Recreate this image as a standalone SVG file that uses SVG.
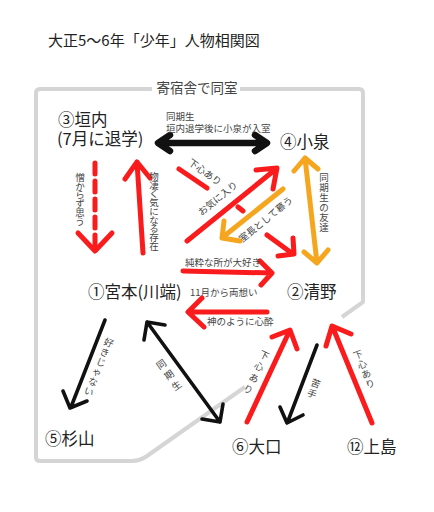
<svg xmlns="http://www.w3.org/2000/svg" width="434" height="512" viewBox="0 0 434 512">
<style>
text{font-family:"Noto Sans CJK JP","Noto Sans CJK SC",sans-serif;}
.title{font-size:15px;fill:#222;}
.node{font-size:16.5px;fill:#222;}
.lbl{font-size:9.5px;fill:#444;}
.vt{text-anchor:middle;}
.red{stroke:#fa1c1c;stroke-width:5;fill:none;stroke-linecap:round;stroke-linejoin:round;}
.org{stroke:#f6a61e;stroke-width:5;fill:none;stroke-linecap:round;stroke-linejoin:round;}
.blk{stroke:#111;stroke-width:3.6;fill:none;stroke-linecap:round;stroke-linejoin:round;}
.blkb{stroke:#111;stroke-width:6.5;fill:none;stroke-linecap:round;stroke-linejoin:round;}
.border{stroke:#d5d5d5;stroke-width:4;fill:none;stroke-linejoin:round;}
</style>
<rect width="434" height="512" fill="#fff"/>
<text class="title" x="48" y="46">大正5〜6年「少年」人物相関図</text>
<g id="border">
<path class="border" d="M152,89 H40 Q36,89 36,93 V457 Q36,461 40,461 H132 Q140,461 147,456 L245,387"/>
<path class="border" d="M342,317 L363,302 V93 Q363,89 359,89 H240"/>
<text x="197" y="93" font-size="13.5" fill="#444" text-anchor="middle">寄宿舎で同室</text>
</g>
<g id="connectors">
<g id="e-kakiuchi-koizumi">
<path class="blkb" d="M160,143 H265 M170,135 L158,143 L170,151 M255,135 L267,143 L255,151"/>
<text class="lbl" x="166" y="119.5" font-size="9.8">同期生</text>
<text class="lbl" x="166" y="131.5" font-size="9.3">垣内退学後に小泉が入室</text>
</g>
<g id="e-kakiuchi-miyamoto">
<path class="red" d="M95,163 V246" stroke-dasharray="11 7"/>
<path class="red" d="M78,233 L95,251 L112,233"/>
<text class="lbl vt" font-size="9"><tspan x="80" y="181">憎</tspan><tspan x="80" dy="8.7">か</tspan><tspan x="80" dy="8.7">ら</tspan><tspan x="80" dy="8.7">ず</tspan><tspan x="80" dy="8.7">思</tspan><tspan x="80" dy="8.7">う</tspan></text>
</g>
<g id="e-miyamoto-kakiuchi">
<path class="red" d="M143,253 L137,162 M125,179 L137,162 L150,178"/>
<text class="lbl vt" font-size="8.7"><tspan x="154" y="180">物</tspan><tspan x="154" dy="8.7">凄</tspan><tspan x="154" dy="8.7">く</tspan><tspan x="154" dy="8.7">気</tspan><tspan x="154" dy="8.7">に</tspan><tspan x="154" dy="8.7">な</tspan><tspan x="154" dy="8.7">る</tspan><tspan x="154" dy="8.7">存</tspan><tspan x="154" dy="8.7">在</tspan></text>
</g>
<g id="e-kakiuchi-kiyono">
<path class="red" d="M179,169 L207,188 M238,207 L243,211 M267,235 L293,254 M278,256 L294,254 L293,238"/>
<text class="lbl" x="0" y="0" font-size="9" text-anchor="middle" transform="translate(203,175) rotate(35)">下心あり</text>
</g>
<g id="e-miyamoto-koizumi">
<path class="red" d="M187,241 L276,169 M256,170 L277,168 L273,189"/>
<text class="lbl" x="0" y="0" font-size="9.5" text-anchor="middle" transform="translate(220,201) rotate(-39)">お気に入り</text>
</g>
<g id="e-kiyono-koizumi-orange">
<path class="org" d="M283,189 L223,237 M240,241 L222,238 L224,221"/>
<text class="lbl" x="0" y="0" font-size="9.3" text-anchor="middle" transform="translate(268,222) rotate(-39)">室長として慕う</text>
</g>
<g id="e-koizumi-kiyono">
<path class="org" d="M305,158 L317,263 M294,171 L305,158 L318,169 M304,252 L317,263 L328,250"/>
<text class="lbl vt" font-size="10"><tspan x="324" y="181">同</tspan><tspan x="324" dy="10">期</tspan><tspan x="324" dy="10">生</tspan><tspan x="324" dy="10">の</tspan><tspan x="324" dy="10">友</tspan><tspan x="324" dy="10">達</tspan></text>
</g>
<g id="e-miyamoto-kiyono">
<path class="red" d="M183,271 L271,273 M260,261 L272,273 L261,285"/>
<text class="lbl" x="185" y="266" font-size="9">純粋な所が大好き</text>
</g>
<text class="lbl" x="190" y="296" font-size="10">11月から両想い</text>
<g id="e-kiyono-miyamoto">
<path class="red" d="M267,312 L189,312 M202,298 L188,312 L204,327"/>
<text class="lbl" x="207" y="325" font-size="8.8">神のように心酔</text>
</g>
<g id="e-miyamoto-sugiyama">
<path class="blk" d="M105,320 L71,407 M87,401 L70,408 L63,391"/>
<text class="lbl vt" font-size="10" transform="translate(99,367) rotate(22)"><tspan x="0" y="-22.5">好</tspan><tspan x="0" dy="10.5">き</tspan><tspan x="0" dy="10.5">じ</tspan><tspan x="0" dy="10.5">ゃ</tspan><tspan x="0" dy="10.5">な</tspan><tspan x="0" dy="10.5">い</tspan></text>
</g>
<g id="e-miyamoto-oguchi">
<path class="blk" d="M147,322 L220,422 M144,340 L147,322 L165,325 M223,404 L220,422 L202,419"/>
<text class="lbl vt" font-size="11" transform="translate(169,375) rotate(-36)"><tspan x="0" y="-9.5">同</tspan><tspan x="0" dy="13">期</tspan><tspan x="0" dy="13">生</tspan></text>
</g>
<g id="e-oguchi-kiyono">
<path class="red" d="M247,422 L289,332 M272,337 L290,330 L297,349"/>
<text class="lbl vt" font-size="10" transform="translate(256,373) rotate(25)"><tspan x="0" y="-16">下</tspan><tspan x="0" dy="12.5">心</tspan><tspan x="0" dy="12.5">あ</tspan><tspan x="0" dy="12.5">り</tspan></text>
</g>
<g id="e-kiyono-oguchi">
<path class="blk" d="M317,345 L288,421 M303,415 L287,423 L280,407"/>
<text class="lbl vt" font-size="10.5" transform="translate(314,388) rotate(21)"><tspan x="0" y="-1.5">苦</tspan><tspan x="0" dy="11">手</tspan></text>
</g>
<g id="e-kamijima-kiyono">
<path class="red" d="M372,423 L333,328 M326,346 L332,326 L351,334"/>
<text class="lbl vt" font-size="10" transform="translate(364,369) rotate(-22)"><tspan x="0" y="-12">下</tspan><tspan x="0" dy="10.5">心</tspan><tspan x="0" dy="10.5">あ</tspan><tspan x="0" dy="10.5">り</tspan></text>
</g>
</g>
<g id="node-kakiuchi">
<text class="node" x="58" y="126">③垣内</text>
<text class="node" x="57" y="145">(7月に退学)</text>
</g>
<g id="node-koizumi"><text class="node" x="280" y="148">④小泉</text></g>
<g id="node-miyamoto"><text class="node" x="88" y="298">①宮本(川端)</text></g>
<g id="node-kiyono"><text class="node" x="287" y="298">②清野</text></g>
<g id="node-sugiyama"><text class="node" x="45" y="445">⑤杉山</text></g>
<g id="node-oguchi"><text class="node" x="232" y="453">⑥大口</text></g>
<g id="node-kamijima"><text class="node" x="347" y="453">⑫上島</text></g>
</svg>
